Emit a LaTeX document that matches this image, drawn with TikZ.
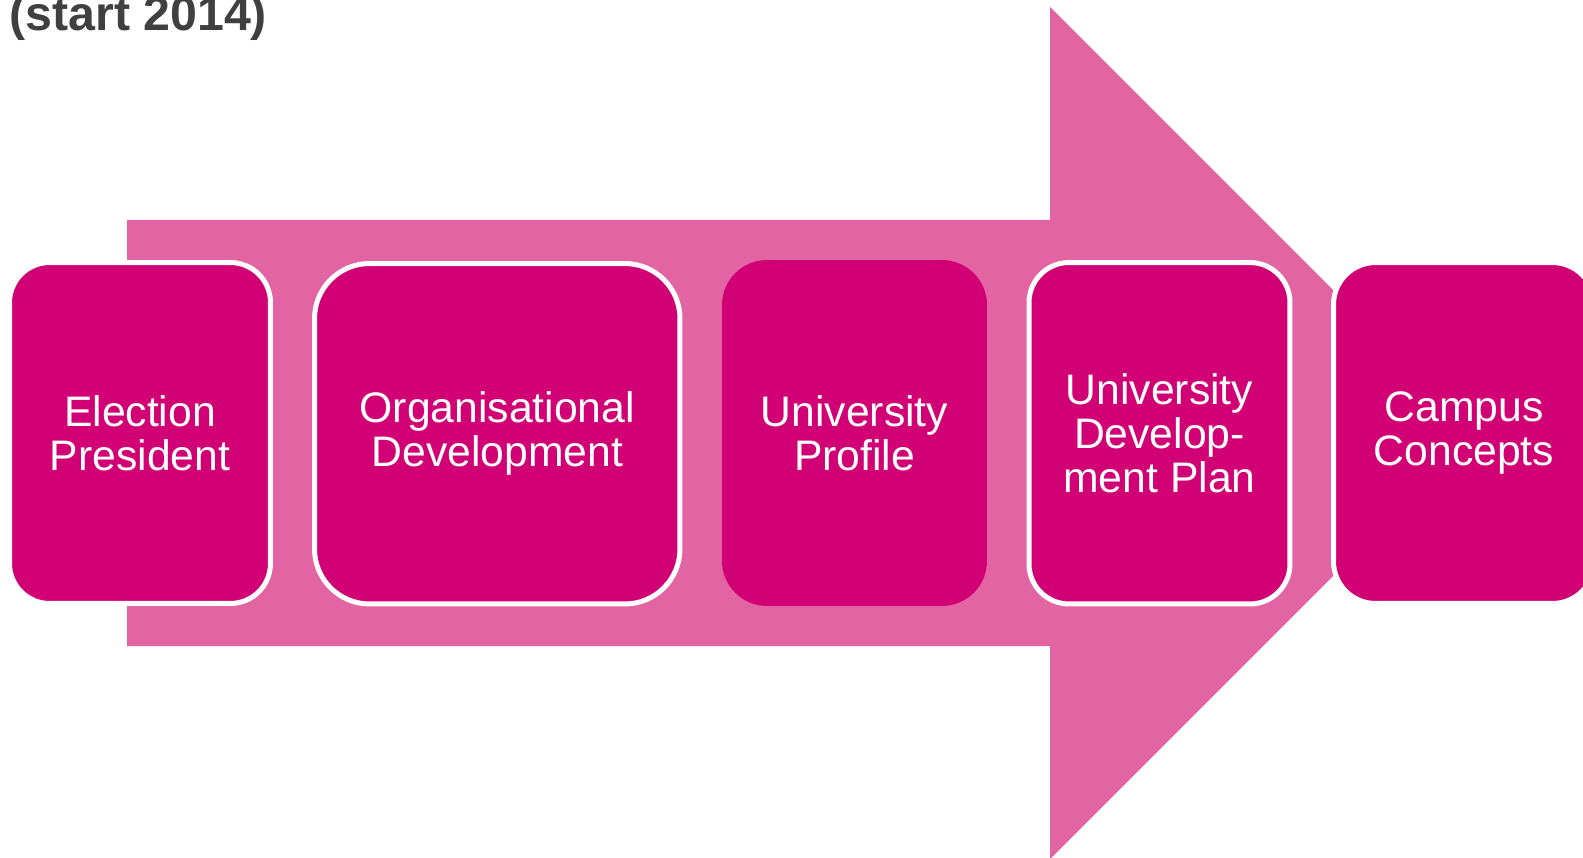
\documentclass[tikz,border=0pt]{standalone}
\usepackage{fontspec}
\setmainfont{Liberation Sans}
\definecolor{stagepink}{RGB}{209,0,116}
\definecolor{arrowpink}{RGB}{226,100,162}
\definecolor{titlegray}{RGB}{64,64,64}
\tikzset{
  stagebox/.style={fill=stagepink, text=white, align=center, inner sep=0pt,
    font=\fontsize{24.3}{25.2}\selectfont},
  whiteedge/.style={draw=white, line width=0.1cm}
}
\begin{document}
\begin{tikzpicture}[x=0.02cm, y=-0.02cm]
      \useasboundingbox (0,0) rectangle (1583,858);

      % Draw the big arrow behind the stages
      \fill[arrowpink] (127,220) -- (1050,220) -- (1050,7) -- (1476,433)
        -- (1050,859) -- (1050,646) -- (127,646) -- cycle;

      % Title, cut at the top
      \node[anchor=base west, inner sep=0pt, text=titlegray,
        font=\fontsize{27.5}{30}\selectfont\bfseries] (title) at (9,31) {(start 2014)};

      % Draw the stages
      \node[stagebox, whiteedge, rounded corners=0.8cm, minimum width=5.22cm, minimum height=6.82cm]
        (election) at (140,433) {Election\\President};
      \node[stagebox, whiteedge, rounded corners=1.1cm, minimum width=7.31cm, minimum height=6.81cm]
        (orgdev) at (497.25,433.75) {Organisational\\Development};
      \node[stagebox, rounded corners=0.9cm, minimum width=5.3cm, minimum height=6.92cm]
        (profile) at (854.5,433) {University\\Profile};
      \node[stagebox, whiteedge, rounded corners=0.8cm, minimum width=5.22cm, minimum height=6.83cm]
        (devplan) at (1159.5,433.25) {University\\Develop-\\ment Plan};
      \node[stagebox, whiteedge, rounded corners=0.84cm, minimum width=5.22cm, minimum height=6.82cm]
        (campus) at (1464,433) {Campus\\Concepts};

      \end{tikzpicture}
\end{document}
